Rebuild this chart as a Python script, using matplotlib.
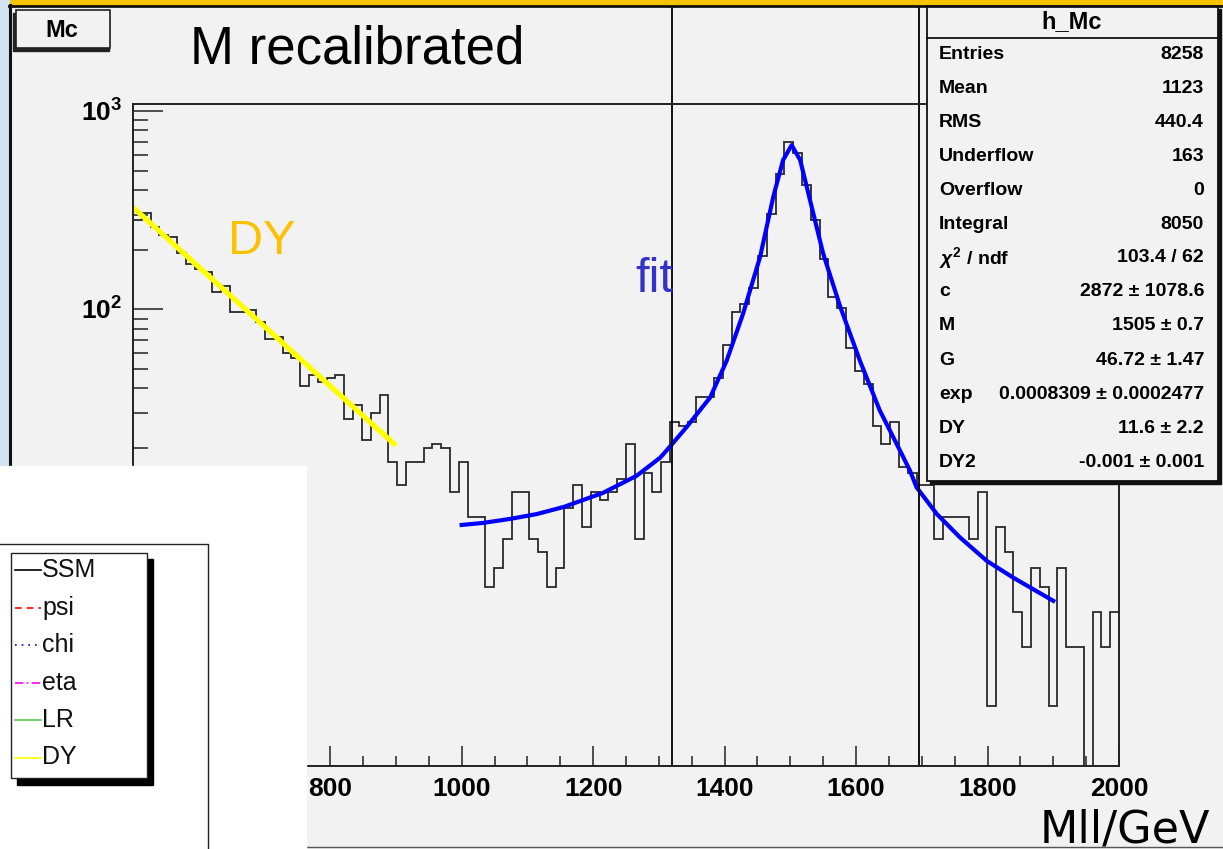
import numpy as np
import matplotlib
matplotlib.use('Agg')
import matplotlib.pyplot as plt
from matplotlib.patches import Rectangle
from matplotlib.ticker import FixedLocator, AutoMinorLocator, FuncFormatter

# ---- histogram h_Mc : 112 bins, 500 - 2000 GeV ----
counts = np.array([
    281, 307, 260, 236, 232, 192, 170, 160, 154, 122,
    131, 97, 97, 99, 86, 71, 73, 60, 57, 41,
    47, 43, 45, 47, 28, 33, 22, 30, 37, 17,
    13, 17, 17, 20, 21, 20, 12, 17, 9, 9,
    4, 5, 7, 12, 12, 7, 6, 4, 5, 10,
    13, 8, 12, 11, 12, 14, 21, 7, 15, 12,
    17, 27, 26, 27, 36, 36, 45, 66, 97, 106,
    128, 187, 304, 484, 695, 611, 423, 281, 180, 115,
    102, 64, 49, 42, 26, 21, 27, 16, 15, 13,
    13, 7, 9, 9, 9, 7, 12, 1, 8, 6,
    3, 2, 5, 4, 1, 5, 2, 2, 0, 3,
    2, 3])
x_lo, x_hi = 500, 2000

# DY fit (exponential, straight on log scale)
dy_x = [500, 900]
dy_y = [327, 20.6]

# signal fit
fit_x = [1000, 1033, 1074, 1114, 1155, 1215, 1266, 1302, 1316, 1342,
         1378, 1403, 1428, 1454, 1474, 1489, 1502, 1515, 1530, 1550,
         1576, 1606, 1636, 1667, 1682, 1692, 1723, 1758, 1799, 1839, 1900]
fit_y = [8.2, 8.4, 8.8, 9.3, 10.1, 11.9, 14.5, 17.9, 20.2, 25.5,
         36, 55, 95, 184, 369, 566, 673, 566, 355, 191,
         103, 55, 31, 19.4, 15.4, 12.7, 9.3, 7.1, 5.4, 4.45, 3.4]

cut_lines = [1320, 1695]

stat_names = ['Entries', 'Mean', 'RMS', 'Underflow', 'Overflow', 'Integral',
              r'$\chi^2$ / ndf', 'c', 'M', 'G', 'exp', 'DY', 'DY2']
stat_values = ['8258', '1123', '440.4', '163', '0', '8050', '103.4 / 62',
               '2872 ± 1078.6', '1505 ± 0.7', '46.72 ± 1.47',
               '0.0008309 ± 0.0002477', '11.6 ± 2.2', '-0.001 ± 0.001']

leg_labels = ['SSM', 'psi', 'chi', 'eta', 'LR', 'DY']
leg_colors = ['black', 'red', 'blue', 'magenta', '#55cc55', 'yellow']
leg_styles = ['-', (0, (4, 3)), (0, (1, 3)), (0, (5, 2, 1, 2)), '-', '-']

#=====================================================================

sans = 'Liberation Sans'
plt.rcParams['mathtext.fontset'] = 'custom'
plt.rcParams['mathtext.bf'] = 'Liberation Sans:bold'
plt.rcParams['mathtext.rm'] = 'Liberation Sans:bold'
plt.rcParams['mathtext.it'] = 'Liberation Sans:bold:italic'

bg = '#f2f2f2'
W, H = 1223, 849
fig = plt.figure(figsize=(W / 100, H / 100), dpi=100, facecolor=bg)

# main pad, pixel box 133..1119 x 104..766
ax = fig.add_axes([133 / W, 1 - 766 / H, (1119 - 133) / W, (766 - 104) / H])
ax.set_facecolor(bg)
ax.set_yscale('log')
ax.set_xlim(x_lo, x_hi)
ax.set_ylim(0.5, 1085)

edges = np.linspace(x_lo, x_hi, len(counts) + 1)
vals = np.where(counts > 0, counts, 0.05).astype(float)
ax.stairs(vals, edges, baseline=None, color='#2a2a2a', lw=1.3)

ax.plot(dy_x, dy_y, color='#ffff00', lw=3.8, solid_capstyle='butt')
ax.plot(fit_x, fit_y, color='#0000ff', lw=3.0)

for c in cut_lines:
    ax.plot([c, c], [0, 1.145], transform=ax.get_xaxis_transform(),
            color='black', lw=1.3, clip_on=False)

ax.xaxis.set_major_locator(FixedLocator(list(range(600, 2001, 200))))
ax.xaxis.set_minor_locator(AutoMinorLocator(4))
ax.yaxis.set_major_formatter(FuncFormatter(
    lambda v, p: r'$\mathbf{10^{%d}}$' % round(np.log10(v))))
ax.tick_params(axis='both', which='both', direction='in', top=False, right=False,
               width=1.1, color='#222')
ax.tick_params(axis='x', which='major', length=14.5, pad=8)
ax.tick_params(axis='x', which='minor', length=7.2)
ax.tick_params(axis='y', which='major', length=21.6, pad=8, labelsize=19)
ax.tick_params(axis='y', which='minor', length=10.8)
for lab in ax.get_xticklabels():
    lab.set_fontfamily(sans)
    lab.set_fontweight('bold')
    lab.set_fontsize(19)
for sp in ax.spines.values():
    sp.set_linewidth(1.4)
    sp.set_color('#222')

# ---- overlay in pixel coordinates ----
ov = fig.add_axes([0, 0, 1, 1], zorder=10)
ov.set_xlim(0, W)
ov.set_ylim(H, 0)
ov.axis('off')
ov.patch.set_alpha(0)

ov.add_patch(Rectangle((0, 0), W, 5, color='#f5c400'))
ov.add_patch(Rectangle((0, 0), 9, H, color='#d3e2f1'))
ov.plot([10, 10], [5, H], color='#111', lw=2.2)
ov.plot([9, W], [6, 6], color='#111', lw=2)
ov.plot([10, W], [847, 847], color='#555', lw=1)

# title pave
ov.add_patch(Rectangle((13, 13), 96, 38, color='#222'))
ov.add_patch(Rectangle((16, 10), 94, 38, facecolor=bg, edgecolor='#222', lw=1.2))
ov.text(62, 30, 'Mc', ha='center', va='center', fontsize=17,
        fontweight='bold', family=sans)

ov.text(190, 63, 'M recalibrated', fontsize=38, family=sans,
        va='baseline', color='black')
ov.text(228, 254, 'DY', fontsize=35, family=sans,
        va='baseline', color='#ffc000')
ov.text(635, 292, 'fit', fontsize=35, family=sans,
        va='baseline', color='#3333cc')

# stats box
ov.add_patch(Rectangle((930, 9), 291, 475, color='#111'))
ov.add_patch(Rectangle((927, 6), 291, 475, facecolor=bg, edgecolor='#111', lw=1.3))
ov.plot([927, 1218], [38, 38], color='#111', lw=1.3)
ov.text(1072, 22, 'h_Mc', ha='center', va='center', fontsize=17,
        fontweight='bold', family=sans)
for i, (nm, vl) in enumerate(zip(stat_names, stat_values)):
    yy = 54 + i * 34
    ov.text(939, yy, nm, ha='left', va='center', fontsize=14,
            fontweight='bold', family=sans)
    ov.text(1204, yy, vl, ha='right', va='center', fontsize=14,
            fontweight='bold', family=sans)

# white patch with the legend
ov.add_patch(Rectangle((0, 466), 306, H - 466, color='white', zorder=5))
ov.plot([0, 208, 208], [544, 544, H], color='#222', lw=1, zorder=6)
ov.add_patch(Rectangle((17, 559), 136, 226, color='black', zorder=6))
ov.add_patch(Rectangle((11, 553), 136, 225, facecolor='white', edgecolor='#222',
                       lw=1, zorder=7))
for i, (lb, cl, ls) in enumerate(zip(leg_labels, leg_colors, leg_styles)):
    yy = 570 + i * 37.5
    ov.plot([15, 41], [yy, yy], color=cl, ls=ls, lw=1.2, zorder=8)
    ov.text(42, yy, lb, ha='left', va='center', fontsize=18,
            family=sans, color='#111', zorder=8)

ov.text(1210, 842, 'Mll/GeV', ha='right', va='baseline', fontsize=32,
        family='DejaVu Sans', color='black')

fig.savefig('out.png', dpi=100, facecolor=fig.get_facecolor())
